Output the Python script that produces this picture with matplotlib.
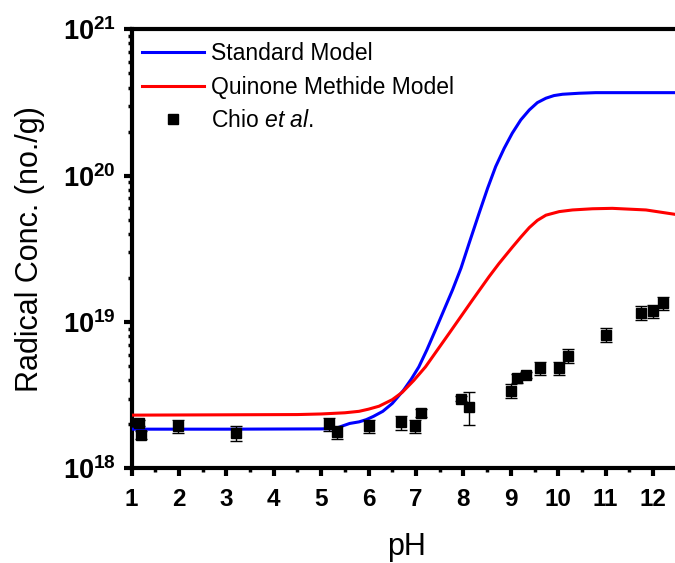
import math
import matplotlib
matplotlib.use("Agg")
import matplotlib.pyplot as plt
from matplotlib.ticker import FixedLocator, LogLocator, NullFormatter, FuncFormatter

plt.rcParams['font.family'] = ['Liberation Sans', 'DejaVu Sans']
plt.rcParams['mathtext.fontset'] = 'custom'
plt.rcParams['mathtext.rm'] = 'Liberation Sans'
plt.rcParams['mathtext.it'] = 'Liberation Sans:italic'
plt.rcParams['mathtext.bf'] = 'Liberation Sans:bold'

SCALE = 1e18

# model curves (values in units of 1e18 no./g)
std_ph = [1.0, 3.0, 5.0, 5.3, 5.45, 5.6, 5.8, 5.95, 6.1, 6.3, 6.5, 6.74, 6.9,
          7.06, 7.23, 7.41, 7.6, 7.77, 7.95, 8.12, 8.33, 8.51, 8.68, 8.86,
          9.03, 9.21, 9.39, 9.56, 9.74, 9.91, 10.09, 10.44, 10.79, 12.6]
std_conc = [1.854, 1.854, 1.862, 1.871, 1.95, 2.028, 2.08, 2.153, 2.265, 2.455,
            2.78, 3.43, 4.07, 4.94, 6.46, 8.81, 12.3, 16.56, 23.4, 34.5, 55.3,
            82.0, 115.3, 153.8, 195.0, 240.4, 281.2, 315.5, 338.1, 352.4,
            359.8, 365.6, 369, 369]

qm_ph = [1.0, 4.5, 5.0, 5.5, 5.8, 6.0, 6.22, 6.5, 6.71, 6.95, 7.2, 7.7, 8.19,
         8.54, 8.75, 9.03, 9.21, 9.39, 9.56, 9.74, 10.02, 10.3, 10.72, 11.14,
         11.85, 12.45, 12.6]
qm_conc = [2.312, 2.333, 2.355, 2.399, 2.455, 2.54, 2.66, 2.95, 3.31, 3.98,
           4.94, 8.38, 14.13, 20.4, 25.1, 32.4, 38.0, 44.2, 49.5, 53.7, 56.8,
           58.3, 59.4, 59.8, 58.3, 54.5, 53.5]

# Chio et al. data
chio_ph = [1.16, 1.19, 1.99, 3.20, 5.17, 5.33, 6.01, 6.68, 6.98, 7.10, 7.95,
           8.12, 9.0, 9.13, 9.32, 9.61, 10.02, 10.21, 11.0, 11.74, 11.99, 12.2]
chio_conc = [2.05, 1.69, 1.95, 1.75, 2.0, 1.78, 1.95, 2.06, 1.95, 2.38, 3.0,
             2.64, 3.39, 4.12, 4.35, 4.82, 4.82, 5.86, 8.15, 11.6, 11.9, 13.4]
chio_err = [0.1, 0.1, 0.2, 0.2, 0.2, 0.18, 0.2, 0.22, 0.2, 0.15, 0.1, 0.67,
            0.38, 0.3, 0.2, 0.5, 0.48, 0.65, 0.9, 1.2, 1.2, 1.4]

xticks = list(range(1, 13))

fig = plt.figure(figsize=(6.75, 5.63), dpi=100)
ax = fig.add_axes([131.5 / 675, 0.168, (682 - 131.5) / 675, 0.78])

ax.plot(std_ph, [v * SCALE for v in std_conc], color='#0000ff', lw=2.2,
        label='Standard Model', zorder=3)
ax.plot(qm_ph, [v * SCALE for v in qm_conc], color='#ff0000', lw=2.2,
        label='Quinone Methide Model', zorder=3)
ax.errorbar(chio_ph, [v * SCALE for v in chio_conc],
            yerr=[e * SCALE for e in chio_err], fmt='none', ecolor='black',
            elinewidth=1, capsize=4, capthick=1, zorder=4)
ax.plot(chio_ph, [v * SCALE for v in chio_conc], 's', color='black', ms=7,
        label=r'Chio $\it{et\ al.}$', zorder=5)

ax.set_yscale('log')
ax.set_xlim(1, 12.61)
ax.set_ylim(1e18, 1e21)

ax.xaxis.set_major_locator(FixedLocator(xticks))
ax.xaxis.set_minor_locator(FixedLocator([x + 0.5 for x in xticks]))
ax.yaxis.set_major_locator(LogLocator(base=10, numticks=10))
ax.yaxis.set_minor_locator(LogLocator(base=10, subs=range(2, 10), numticks=20))
ax.yaxis.set_minor_formatter(NullFormatter())
ax.yaxis.set_major_formatter(FuncFormatter(
    lambda v, p: r'$\mathbf{10^{%d}}$' % round(math.log10(v))))

for sp in ax.spines.values():
    sp.set_linewidth(3)
ax.spines['right'].set_visible(False)

ax.tick_params(which='major', direction='out', length=6, width=3,
               top=False, right=False)
ax.tick_params(axis='x', which='major', pad=8, labelsize=17.5)
ax.tick_params(axis='y', which='major', pad=5, labelsize=19.5)
ax.tick_params(which='minor', direction='out', length=3, width=2.5,
               top=False, right=False)
for lab in ax.get_xticklabels():
    lab.set_fontweight('bold')

ax.set_xlabel('pH', fontsize=22, labelpad=15)
ax.set_ylabel('Radical Conc. (no./g)', fontsize=22, labelpad=13)

leg = ax.legend(loc='upper left', bbox_to_anchor=(0.019, 0.97),
                frameon=False, fontsize=16.5, handlelength=2.7,
                handletextpad=0.3, labelspacing=0.45, borderpad=0,
                borderaxespad=0)

fig.savefig('out.png', dpi=100)
